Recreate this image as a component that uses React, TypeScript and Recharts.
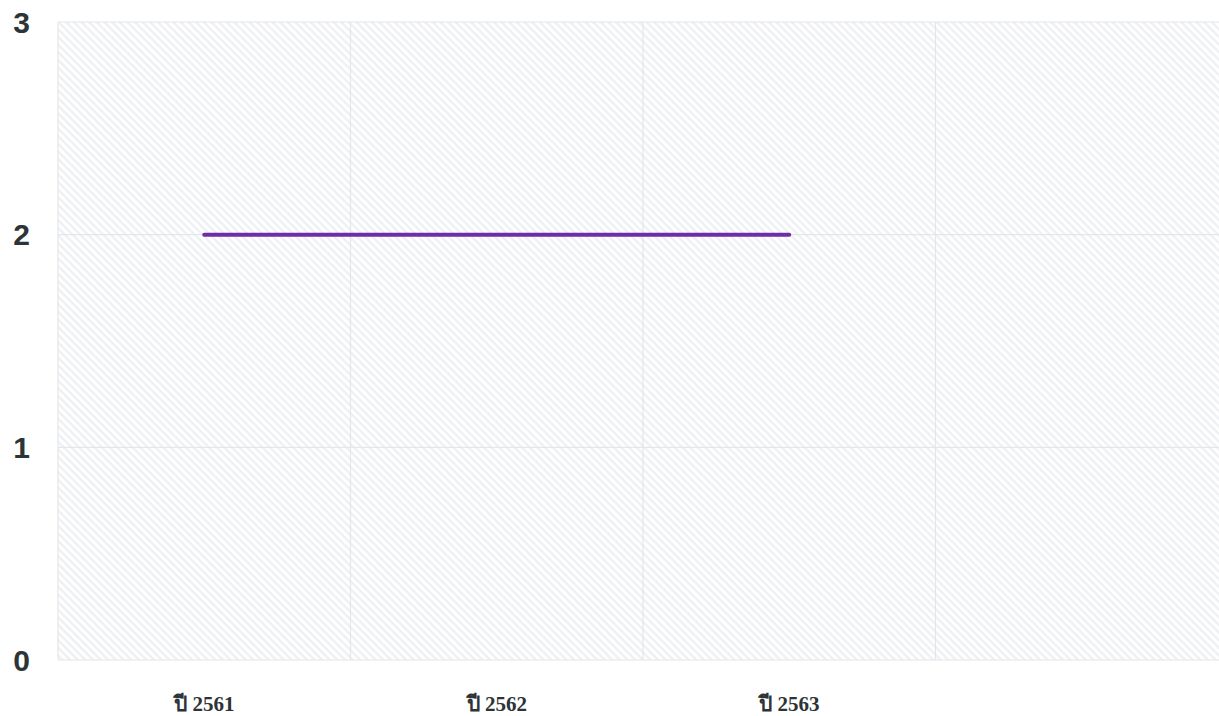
import React from 'react';
import { LineChart, Line, XAxis, YAxis, CartesianGrid } from 'recharts';

const categories = ['ปี 2561', 'ปี 2562', 'ปี 2563', ''];
const seriesValues: (number | null)[] = [2, 2, 2, null];
const yTicks = [0, 1, 2, 3];
const gridBoundaries = [0, 1, 2, 3, 4];

const data = categories.map((year, i) => ({
  year,
  value: seriesValues[i],
  slot: i,
}));

export default function App() {
  return (
    <div style={{ position: 'absolute', left: 0, top: 0, width: 1219, height: 716, overflow: 'hidden', background: '#fff' }}>
      <LineChart width={1240} height={716} data={data} margin={{ top: 22, right: 12, left: 0, bottom: 0 }}>
        <defs>
          <pattern id="hatch" patternUnits="userSpaceOnUse" width="6" height="5.4" patternTransform="rotate(45)">
            <rect x="0" y="0" width="6" height="2.4" fill="#eef0f3" />
          </pattern>
        </defs>
        <CartesianGrid xAxisId="grid" stroke="#e3e6ea" strokeWidth={1.2} fill="url(#hatch)" />
        <XAxis
          xAxisId="grid"
          type="number"
          dataKey="slot"
          domain={[0, categories.length]}
          ticks={gridBoundaries}
          hide
          height={0}
        />
        <XAxis
          xAxisId="cat"
          dataKey="year"
          type="category"
          scale="band"
          axisLine={false}
          tickLine={false}
          tickSize={0}
          tickMargin={36}
          height={56}
          interval={0}
          tick={{ fontSize: 21, fontWeight: 700, fill: '#2d3436', fontFamily: '"Liberation Serif", "Times New Roman", serif' }}
        />
        <YAxis
          domain={[0, 3]}
          ticks={yTicks}
          width={58}
          axisLine={false}
          tickLine={false}
          tickSize={0}
          tickMargin={28}
          tick={{ fontSize: 30, fontWeight: 700, fill: '#2d3436', fontFamily: '"Liberation Sans", Arial, sans-serif' }}
        />
        <Line
          xAxisId="cat"
          type="linear"
          dataKey="value"
          stroke="#6f2da8"
          strokeWidth={4}
          strokeLinecap="round"
          dot={false}
          activeDot={false}
          isAnimationActive={false}
        />
      </LineChart>
    </div>
  );
}
